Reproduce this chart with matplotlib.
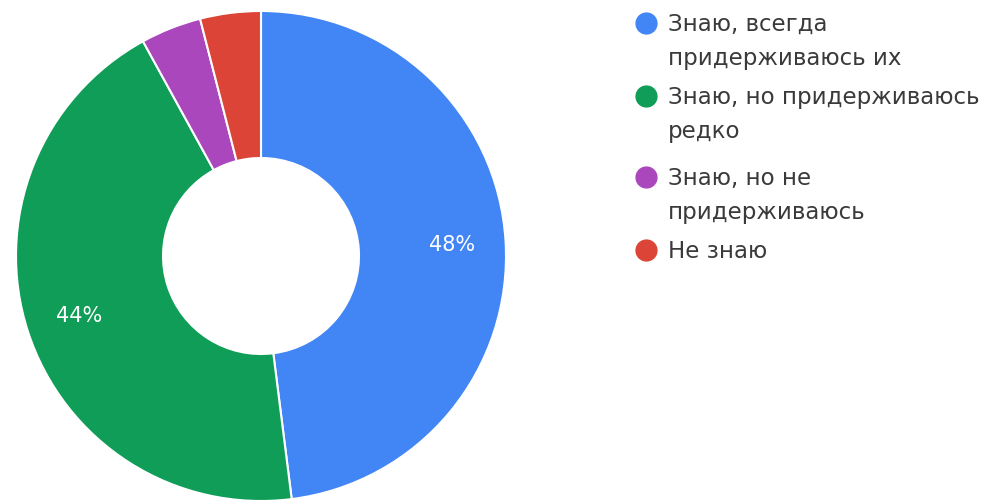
import matplotlib.pyplot as plt

labels = ["Знаю, всегда\nпридерживаюсь их",
          "Знаю, но придерживаюсь\nредко",
          "Знаю, но не\nпридерживаюсь",
          "Не знаю"]
counts = [24, 22, 2, 2]
colors = ["#4285F4", "#0F9D58", "#AB47BC", "#DB4437"]

plt.rcParams['font.family'] = ['DejaVu Sans']

fig = plt.figure(figsize=(9.87, 5.02), dpi=100)
ax = fig.add_axes([16/987, 0/502, 490/987, 490/502])

def fmt(pct):
    return "%d%%" % round(pct) if pct > 5 else ""

wedges, texts, autotexts = ax.pie(counts, colors=colors, startangle=90, counterclock=False,
                                  autopct=fmt, pctdistance=0.78, radius=1,
                                  wedgeprops=dict(width=0.6, edgecolor="white", linewidth=1.5),
                                  textprops=dict(color="white", fontsize=15))
ax.set_xlim(-1, 1)
ax.set_ylim(-1, 1)
ax.set_aspect("equal")
ax.axis("off")

# legend drawn by hand, Google-chart style
y_pos = [24, 97, 178, 251]
for lab, col, y in zip(labels, colors, y_pos):
    fig.lines.append(plt.Line2D([646/987], [1 - y/502], marker="o", markersize=15,
                                color=col, transform=fig.transFigure))
    fig.text(668/987, 1 - (y - 11)/502, lab, fontsize=16.5, color="#3a3a3a",
             va="top", ha="left", linespacing=1.62)

fig.savefig("out.png", dpi=100)
